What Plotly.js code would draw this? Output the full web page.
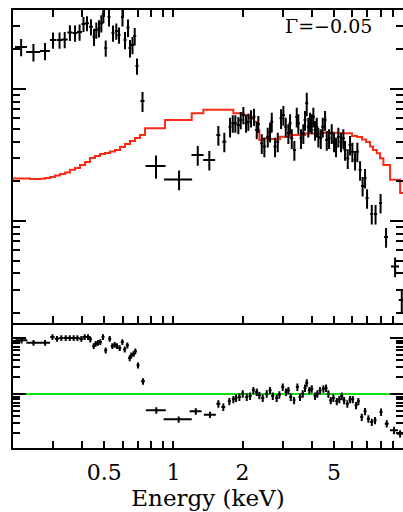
<!DOCTYPE html>
<html>
<head>
<meta charset="utf-8">
<script src="https://cdn.plot.ly/plotly-3.0.1.min.js"></script>
<style>
  html, body { margin: 0; padding: 0; background: #fff; overflow: hidden; }
  #plot { width: 403px; height: 512px; }
</style>
</head>
<body>
<div id="plot"></div>
<script>
// Observed spectrum: bin centre (keV), flux (counts s^-1 keV^-1), bin half-width, 1-sigma error
const specEnergy = [0.217, 0.2455, 0.2757, 0.2987, 0.319, 0.336, 0.354, 0.3725, 0.390, 0.4056,
  0.4202, 0.4374, 0.4508, 0.4613, 0.474, 0.4851, 0.495, 0.5069, 0.5239, 0.5453,
  0.5637, 0.5792, 0.5998, 0.6152, 0.634, 0.6468, 0.6632, 0.678, 0.6938, 0.7332,
  0.8396, 1.058, 1.276, 1.433, 1.569, 1.666, 1.764, 1.813, 1.860, 1.917,
  1.964, 2.016, 2.072, 2.120, 2.178, 2.244, 2.306, 2.343, 2.425, 2.489,
  2.575, 2.635, 2.681, 2.771, 2.847, 2.943, 3.012, 3.085, 3.167, 3.221,
  3.277, 3.363, 3.445, 3.500, 3.596, 3.680, 3.743, 3.808, 3.869, 3.936,
  4.004, 4.069, 4.139, 4.210, 4.279, 4.383, 4.472, 4.576, 4.655, 4.763,
  4.894, 5.008, 5.109, 5.228, 5.372, 5.497, 5.592, 5.745, 5.880, 6.017,
  6.183, 6.327, 6.501, 6.668, 6.835, 6.973, 7.311, 7.593, 7.986, 8.437,
  9.237, 9.879];
const specFlux = [0.0208, 0.01907, 0.01942, 0.02351, 0.02351, 0.02371, 0.02679, 0.02656, 0.02703, 0.03108,
  0.03146, 0.02965, 0.0249, 0.02799, 0.02883, 0.03146, 0.037, 0.02045, 0.03511, 0.02656,
  0.0275, 0.02565, 0.03511, 0.02351, 0.02923, 0.02045, 0.02154, 0.02521, 0.01493, 0.00811,
  0.00261, 0.00206, 0.00316, 0.0029, 0.00448, 0.00399, 0.00518, 0.0055, 0.0055, 0.00534,
  0.00582, 0.00635, 0.0055, 0.00565, 0.006, 0.00617, 0.00489, 0.00543, 0.00388, 0.00366,
  0.00435, 0.00475, 0.00565, 0.00366, 0.00399, 0.006, 0.00635, 0.00518, 0.00462, 0.0055,
  0.00423, 0.00345, 0.00617, 0.0055, 0.00423, 0.00462, 0.00582, 0.00779, 0.00518, 0.00565,
  0.0055, 0.00617, 0.00489, 0.00518, 0.00435, 0.00423, 0.00518, 0.00582, 0.00411, 0.00423,
  0.00462, 0.00399, 0.00366, 0.00435, 0.00399, 0.00423, 0.00345, 0.00299, 0.00377, 0.00335,
  0.0029, 0.00335, 0.00243, 0.00184, 0.00212, 0.00149, 0.00113, 0.00113, 0.00137, 0.000756,
  0.000451, 0.000252];
const specHalfWidth = [0.013, 0.0172, 0.0138, 0.009, 0.0096, 0.0101, 0.0089, 0.0093, 0.0098, 0.0081,
  0.0084, 0.0087, 0.0068, 0.0069, 0.0071, 0.0073, 0.0074, 0.0076, 0.0079, 0.0082,
  0.0085, 0.0087, 0.009, 0.0092, 0.0095, 0.0097, 0.0099, 0.0102, 0.0104, 0.0147,
  0.084, 0.148, 0.077, 0.086, 0.031, 0.033, 0.026, 0.027, 0.028, 0.029,
  0.029, 0.03, 0.031, 0.032, 0.033, 0.034, 0.035, 0.035, 0.036, 0.037,
  0.039, 0.04, 0.04, 0.042, 0.043, 0.044, 0.045, 0.046, 0.048, 0.048,
  0.049, 0.05, 0.052, 0.053, 0.054, 0.055, 0.056, 0.057, 0.058, 0.059,
  0.06, 0.061, 0.062, 0.063, 0.064, 0.066, 0.067, 0.069, 0.07, 0.071,
  0.073, 0.075, 0.077, 0.078, 0.081, 0.082, 0.084, 0.086, 0.088, 0.09,
  0.093, 0.095, 0.098, 0.1, 0.103, 0.105, 0.11, 0.114, 0.12, 0.169,
  0.37, 0.30];
const specErr = [0.0031, 0.0029, 0.0029, 0.0033, 0.0033, 0.0033, 0.0037, 0.0037, 0.0038, 0.0040,
  0.0041, 0.0042, 0.0037, 0.0039, 0.0043, 0.0047, 0.0056, 0.0029, 0.0053, 0.0037,
  0.0039, 0.0036, 0.0053, 0.0035, 0.0044, 0.0031, 0.0032, 0.0038, 0.0021, 0.0014,
  0.00052, 0.00035, 0.00054, 0.00049, 0.00076, 0.00068, 0.00088, 0.00083, 0.00083, 0.0008,
  0.00087, 0.00095, 0.00083, 0.00085, 0.0009, 0.00093, 0.00073, 0.00081, 0.00066, 0.00062,
  0.00074, 0.00081, 0.00096, 0.00062, 0.00068, 0.00102, 0.00108, 0.00088, 0.00079, 0.00094,
  0.00072, 0.00059, 0.00105, 0.00094, 0.00072, 0.00079, 0.00099, 0.00156, 0.00088, 0.00096,
  0.00094, 0.00105, 0.00083, 0.00088, 0.00074, 0.00072, 0.00088, 0.00099, 0.0007, 0.00072,
  0.00079, 0.00068, 0.00062, 0.00074, 0.00068, 0.00072, 0.00059, 0.00051, 0.00064, 0.00057,
  0.00049, 0.00057, 0.00041, 0.00031, 0.00036, 0.00025, 0.00019, 0.00019, 0.00023, 0.00013,
  0.000077, 0.00005];

// Folded model, drawn as a histogram (each level holds until the next edge)
const modelEnergy = [0.2, 0.2372, 0.2622, 0.2757, 0.2899, 0.3048, 0.3205, 0.337, 0.354, 0.3725,
  0.3916, 0.4117, 0.433, 0.4553, 0.4787, 0.5033, 0.5293, 0.5564, 0.5851, 0.6152,
  0.6468, 0.6801, 0.715, 0.7519, 0.919, 1.201, 1.35, 1.824, 2.016, 2.157,
  2.244, 2.306, 2.367, 2.456, 2.583, 2.913, 3.221, 3.743, 4.44, 5.213,
  6.0, 6.308, 6.632, 6.904, 7.187, 7.405, 7.684, 7.945, 8.213, 8.785,
  9.712, 10.0];
const modelFlux = [0.0021, 0.00208, 0.00209, 0.00212, 0.00215, 0.00221, 0.00227, 0.00233, 0.00244, 0.00252,
  0.00266, 0.0028, 0.003, 0.00311, 0.00322, 0.00327, 0.00336, 0.00345, 0.00364, 0.00383,
  0.00404, 0.00425, 0.00448, 0.00504, 0.00582, 0.00655, 0.00695, 0.00655, 0.00635, 0.0060,
  0.00565, 0.00489, 0.00411, 0.00422, 0.00418, 0.00435, 0.00448, 0.0046, 0.00467, 0.00462,
  0.0044, 0.00433, 0.00415, 0.00397, 0.00366, 0.00345, 0.00326, 0.00299, 0.00266, 0.00205,
  0.00163, 0.00163];

// Data / model ratio
const ratioEnergy = [0.218, 0.2457, 0.276, 0.297, 0.311, 0.3248, 0.3394, 0.3533, 0.3677, 0.3814,
  0.3968, 0.4107, 0.4245, 0.4344, 0.4494, 0.4585, 0.4693, 0.4803, 0.4934, 0.5069,
  0.5277, 0.5416, 0.5547, 0.5678, 0.5833, 0.5988, 0.6134, 0.6295, 0.6449, 0.6554,
  0.6712, 0.6821, 0.7009, 0.7368, 0.842, 1.054, 1.251, 1.443, 1.569, 1.649,
  1.752, 1.824, 1.874, 1.937, 2.004, 2.086, 2.157, 2.229, 2.306, 2.367,
  2.449, 2.549, 2.635, 2.708, 2.818, 2.893, 2.994, 3.094, 3.167, 3.243,
  3.353, 3.466, 3.560, 3.658, 3.743, 3.808, 3.909, 4.004, 4.139, 4.236,
  4.352, 4.499, 4.622, 4.730, 4.845, 4.973, 5.147, 5.281, 5.410, 5.537,
  5.721, 5.880, 6.042, 6.246, 6.391, 6.612, 6.835, 7.065, 7.311, 7.555,
  8.024, 8.496, 9.143, 9.712];
const ratioValue = [9.10, 8.24, 8.24, 10.42, 9.72, 10.0, 10.0, 10.0, 10.0, 10.0,
  9.72, 10.42, 10.42, 9.48, 7.20, 7.91, 8.24, 8.48, 10.42, 6.03,
  9.72, 7.20, 7.59, 7.20, 6.63, 8.48, 6.28, 7.41, 4.39, 4.91,
  5.25, 5.79, 3.25, 1.686, 0.512, 0.353, 0.491, 0.427, 0.671, 0.586,
  0.741, 0.804, 0.848, 0.884, 1.012, 0.884, 0.921, 1.164, 1.086, 0.948,
  0.848, 1.012, 1.164, 0.921, 0.848, 0.972, 1.334, 1.086, 1.164, 0.884,
  0.772, 1.334, 0.884, 1.012, 1.280, 1.591, 1.164, 1.243, 0.921, 1.012,
  1.164, 1.243, 1.280, 1.012, 0.772, 0.848, 0.741, 0.804, 0.921, 0.772,
  0.671, 0.804, 0.804, 0.628, 0.741, 0.388, 0.491, 0.362, 0.316, 0.339,
  0.477, 0.295, 0.225, 0.1955];
const ratioHalfWidth = [0.013, 0.017, 0.014, 0.0065, 0.0068, 0.0071, 0.0075, 0.0078, 0.0081, 0.0084,
  0.0087, 0.009, 0.0093, 0.0065, 0.0067, 0.0069, 0.007, 0.0072, 0.0074, 0.0076,
  0.0079, 0.0081, 0.0083, 0.0085, 0.0087, 0.009, 0.0092, 0.0094, 0.0097, 0.0098,
  0.0101, 0.0102, 0.0105, 0.0147, 0.084, 0.148, 0.075, 0.087, 0.031, 0.033,
  0.026, 0.027, 0.028, 0.029, 0.03, 0.031, 0.032, 0.033, 0.035, 0.036,
  0.037, 0.038, 0.04, 0.041, 0.042, 0.043, 0.045, 0.046, 0.048, 0.049,
  0.05, 0.052, 0.053, 0.055, 0.056, 0.057, 0.059, 0.06, 0.062, 0.064,
  0.065, 0.067, 0.069, 0.071, 0.073, 0.075, 0.077, 0.079, 0.081, 0.083,
  0.086, 0.088, 0.091, 0.094, 0.096, 0.099, 0.103, 0.106, 0.11, 0.113,
  0.12, 0.17, 0.37, 0.29];
const ratioErr = [1.1, 1.0, 1.0, 1.25, 1.17, 1.2, 1.2, 1.2, 1.2, 1.2,
  1.17, 1.25, 1.25, 1.14, 0.86, 0.95, 0.99, 1.02, 1.25, 0.72,
  1.17, 0.86, 0.91, 0.86, 0.8, 1.02, 0.75, 0.89, 0.53, 0.59,
  0.63, 0.69, 0.39, 0.22, 0.07, 0.045, 0.065, 0.055, 0.1, 0.088,
  0.11, 0.12, 0.127, 0.133, 0.152, 0.133, 0.138, 0.175, 0.163, 0.142,
  0.127, 0.152, 0.175, 0.138, 0.127, 0.146, 0.2, 0.163, 0.175, 0.133,
  0.116, 0.2, 0.133, 0.152, 0.192, 0.24, 0.175, 0.186, 0.138, 0.152,
  0.175, 0.186, 0.192, 0.152, 0.116, 0.127, 0.111, 0.121, 0.138, 0.116,
  0.1, 0.121, 0.121, 0.094, 0.111, 0.058, 0.074, 0.054, 0.047, 0.051,
  0.072, 0.044, 0.034, 0.029];

// Axis extents and ticks
const energyRange = [0.2, 10];
const fluxRange = [1.70e-4, 3.97e-2];
const ratioRange = [0.1086, 18.9];
const unityRatio = 1;
const energyLabelVals = [0.5, 1, 2, 5];
const energyLabelText = ['0.5', '1', '2', '5'];
const energyMinorVals = [0.2, 0.3, 0.4, 0.6, 0.7, 0.8, 0.9, 3, 4, 6, 7, 8, 9];
const energyDecadeVals = [1, 10];
const fluxMajorVals = [1e-3, 1e-2];
const fluxMinorVals = [2e-4, 3e-4, 4e-4, 5e-4, 6e-4, 7e-4, 8e-4, 9e-4,
  2e-3, 3e-3, 4e-3, 5e-3, 6e-3, 7e-3, 8e-3, 9e-3, 2e-2, 3e-2];
const ratioMajorVals = [1, 10];
const ratioMinorVals = [0.2, 0.3, 0.4, 0.5, 0.6, 0.7, 0.8, 0.9, 2, 3, 4, 5, 6, 7, 8, 9];
const gammaLabel = 'Γ=−0.05';

const lg = Math.log10;
const INK = '#000000';
const MODEL_RED = '#ff2a14';
const UNITY_GREEN = '#10e010';
const SERIF = '"DejaVu Serif", "Liberation Serif", serif';

const split = 0.2865; // fraction of the plot height given to the ratio panel

const crossStyle = (arr) => ({ type: 'data', array: arr, visible: true, color: INK, thickness: 2, width: 0 });

const traces = [
  {
    x: modelEnergy, y: modelFlux, xaxis: 'x2', yaxis: 'y2',
    type: 'scatter', mode: 'lines', line: { color: MODEL_RED, width: 2, shape: 'hv' },
    hoverinfo: 'skip'
  },
  {
    x: specEnergy, y: specFlux, xaxis: 'x2', yaxis: 'y2',
    type: 'scatter', mode: 'markers', marker: { size: 2, color: INK },
    error_x: crossStyle(specHalfWidth), error_y: crossStyle(specErr)
  },
  {
    x: energyRange, y: [unityRatio, unityRatio], xaxis: 'x', yaxis: 'y',
    type: 'scatter', mode: 'lines', line: { color: UNITY_GREEN, width: 2 },
    hoverinfo: 'skip'
  },
  {
    x: ratioEnergy, y: ratioValue, xaxis: 'x', yaxis: 'y',
    type: 'scatter', mode: 'markers', marker: { size: 2, color: INK },
    error_x: crossStyle(ratioHalfWidth), error_y: crossStyle(ratioErr)
  }
];

const xRangeLog = [lg(energyRange[0]), lg(energyRange[1])];
const minorOf = (vals) => ({ tickmode: 'array', tickvals: vals, ticks: 'inside', ticklen: 7, tickwidth: 2, tickcolor: INK, showgrid: false });
const tickBase = {
  type: 'log', showgrid: false, zeroline: false,
  showline: true, linecolor: INK, linewidth: 2, mirror: 'allticks',
  ticks: 'inside', tickwidth: 2, tickcolor: INK
};
// tick-only energy axis (no line) laid over one of the panels
const tickOnlyX = (over, anchor, side, vals, len, minorVals) => {
  const ax = {
    type: 'log', overlaying: over, anchor: anchor, side: side, range: xRangeLog,
    showgrid: false, zeroline: false, showline: false, mirror: false,
    ticks: 'inside', ticklen: len, tickwidth: 2, tickcolor: INK,
    tickmode: 'array', tickvals: vals, showticklabels: false
  };
  if (minorVals) ax.minor = minorOf(minorVals);
  return ax;
};

const layout = {
  width: 403, height: 512,
  margin: { l: 13, r: 0, t: 10, b: 64, pad: 0 },
  paper_bgcolor: '#ffffff', plot_bgcolor: '#ffffff',
  showlegend: false,
  font: { family: SERIF, size: 22, color: INK },
  // energy axis of the ratio panel (bottom edge only; the shared edge is drawn by the spectrum panel)
  xaxis: Object.assign({}, tickBase, {
    anchor: 'y', domain: [0, 1], range: xRangeLog, mirror: false,
    tickmode: 'array', tickvals: energyLabelVals, ticktext: energyLabelText, ticklen: 7,
    ticklabelstandoff: 4,
    tickfont: { family: SERIF, size: 22, color: INK },
    minor: minorOf(energyMinorVals),
    title: { text: 'Energy (keV)', font: { family: SERIF, size: 23, color: INK }, standoff: 3 }
  }),
  // spectrum panel frame: top and bottom edges with ticks
  xaxis2: Object.assign({}, tickBase, {
    anchor: 'y2', domain: [0, 1], range: xRangeLog,
    tickmode: 'array', tickvals: energyLabelVals, ticklen: 7, showticklabels: false,
    minor: minorOf(energyMinorVals)
  }),
  // longer decade ticks and the ratio panel's upper ticks
  xaxis3: tickOnlyX('x', 'y', 'bottom', energyDecadeVals, 11),
  xaxis4: Object.assign(tickOnlyX('x2', 'y2', 'bottom', energyDecadeVals, 11), { mirror: 'ticks' }),
  xaxis5: tickOnlyX('x', 'y', 'top', energyLabelVals, 7, energyMinorVals),
  xaxis6: tickOnlyX('x', 'y', 'top', energyDecadeVals, 11),
  yaxis: Object.assign({}, tickBase, {
    anchor: 'x', domain: [0, split], range: [lg(ratioRange[0]), lg(ratioRange[1])],
    tickmode: 'array', tickvals: ratioMajorVals, ticklen: 13, showticklabels: false,
    minor: minorOf(ratioMinorVals)
  }),
  yaxis2: Object.assign({}, tickBase, {
    anchor: 'x2', domain: [split, 1], range: [lg(fluxRange[0]), lg(fluxRange[1])],
    tickmode: 'array', tickvals: fluxMajorVals, ticklen: 13, showticklabels: false,
    minor: minorOf(fluxMinorVals)
  }),
  annotations: [{
    text: gammaLabel, xref: 'paper', yref: 'paper', x: 0.81, y: 0.963,
    xanchor: 'center', yanchor: 'middle', showarrow: false,
    font: { family: SERIF, size: 19, color: INK }
  }]
};

Plotly.newPlot('plot', traces, layout, { staticPlot: true, displayModeBar: false });
</script>
</body>
</html>
